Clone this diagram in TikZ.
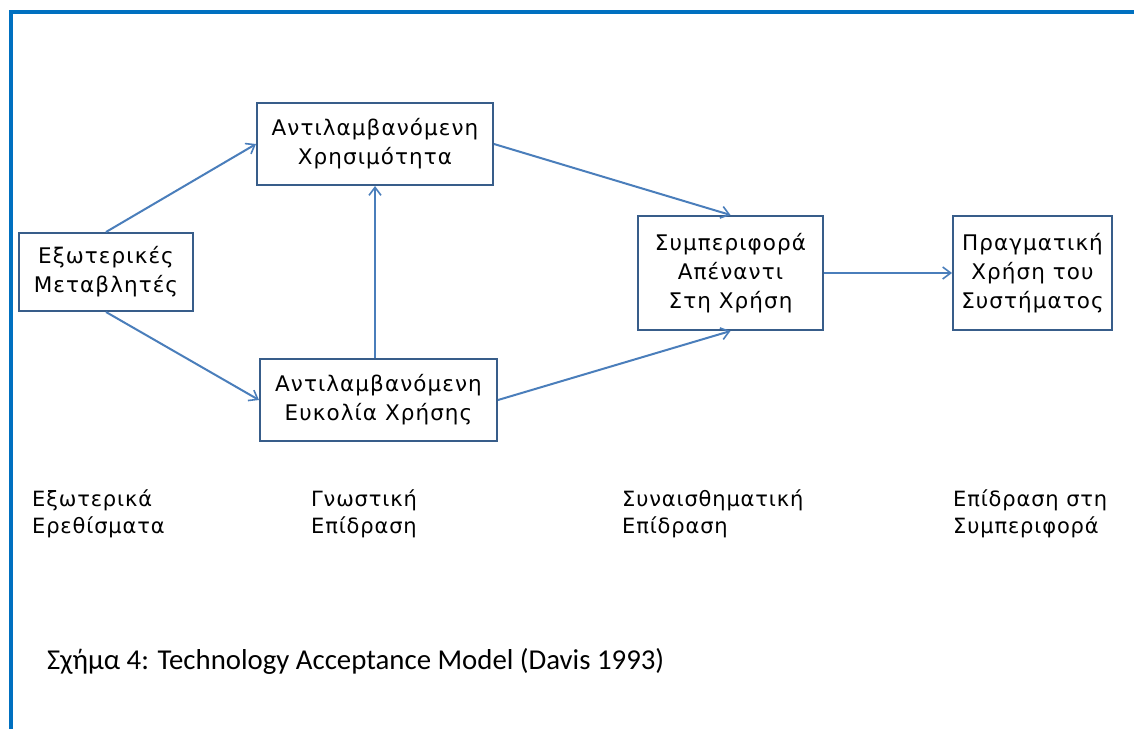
\documentclass[tikz,border=0pt]{standalone}
\usepackage{fontspec}
\setmainfont{DejaVu Sans}
\newfontfamily\boxfont[LetterSpace=5]{DejaVu Sans}
\newfontfamily\labelfont[LetterSpace=4]{DejaVu Sans}
\newfontfamily\capfont{Carlito}
\usetikzlibrary{arrows.meta}
\definecolor{frameblue}{HTML}{0070C0}
\definecolor{boxline}{HTML}{385D8A}
\definecolor{arrowline}{HTML}{4A7EBB}
\begin{document}
\begin{tikzpicture}[x=1pt,y=-1pt,
  tambox/.style={draw=boxline,line width=2pt,rectangle,inner sep=0pt,align=center,
    font=\boxfont\fontsize{21.5}{29}\selectfont,text=black},
  link/.style={draw=arrowline,line width=2pt,
    -{Straight Barb[length=8pt,width=12pt,line width=1.6pt]}},
  stage/.style={anchor=base west,align=left,inner sep=0pt,
    font=\labelfont\fontsize{21}{27.5}\selectfont,text=black},
  caption/.style={anchor=base west,inner sep=0pt,
    font=\capfont\fontsize{28.8}{32}\selectfont,text=black}]
\useasboundingbox (0,0) rectangle (1134,729);
\fill[white] (0,0) rectangle (1134,729);
% frame lines on top and left
\draw[frameblue,line width=4pt] (11,729) -- (11,12) -- (1134,12);

% model boxes
\node[tambox,minimum width=174pt,minimum height=78pt] (ext) at (106,272)
  {Εξωτερικές\\Μεταβλητές};
\node[tambox,minimum width=236pt,minimum height=82pt] (pu) at (375,144)
  {Αντιλαμβανόμενη\\Χρησιμότητα};
\node[tambox,minimum width=237pt,minimum height=82pt] (peou) at (378.5,400)
  {Αντιλαμβανόμενη\\Ευκολία Χρήσης};
\node[tambox,minimum width=185pt,minimum height=114pt] (att) at (730.5,273)
  {Συμπεριφορά\\Απέναντι\\Στη Χρήση};
\node[tambox,minimum width=159pt,minimum height=114pt] (use) at (1032.5,273)
  {Πραγματική\\Χρήση του\\Συστήματος};

% causal links
\draw[link] (ext.north) -- (pu.west);
\draw[link] (ext.south) -- (peou.west);
\draw[link] (peou.north -| pu.south) -- (pu.south);
\draw[link] (pu.east) -- (att.north);
\draw[link] (peou.east) -- (att.south);
\draw[link] (att.east) -- (use.west);

% stage labels
\node[stage] (s1) at (32,533.5) {Εξωτερικά\\Ερεθίσματα};
\node[stage] (s2) at (311,533.5) {Γνωστική\\Επίδραση};
\node[stage] (s3) at (622,533.5) {Συναισθηματική\\Επίδραση};
\node[stage] (s4) at (953,533.5) {Επίδραση στη\\Συμπεριφορά};

% figure caption
\node[caption] (cap) at (47,669) {Σχήμα 4: Technology Acceptance Model (Davis 1993)};
\end{tikzpicture}
\end{document}
